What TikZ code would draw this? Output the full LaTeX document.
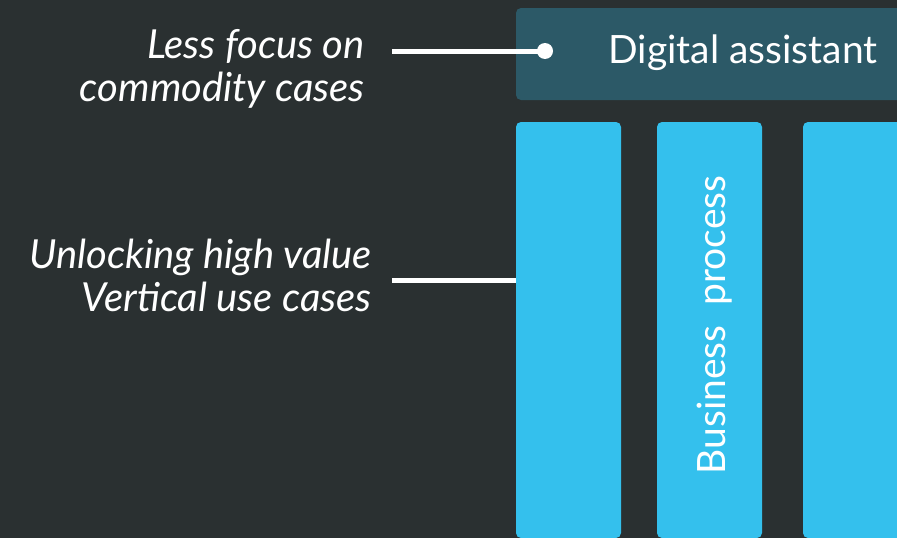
\documentclass[tikz,border=0pt]{standalone}
\usepackage{fontspec}
\setmainfont{Lato}
\definecolor{bgc}{RGB}{42,48,49}
\definecolor{topc}{RGB}{44,89,103}
\definecolor{barc}{RGB}{52,192,237}
\begin{document}
\begin{tikzpicture}[x=1pt,y=-1pt,
  bar/.style={fill=barc, rounded corners=5pt},
  lbl/.style={text=white, font=\fontsize{40}{43.7}\selectfont\itshape, align=right, inner sep=0pt},
  conn/.style={draw=white, line width=5pt},
  ]
\useasboundingbox (0,0) rectangle (897,538);
\fill[bgc] (0,0) rectangle (897,538);
\clip (0,0) rectangle (897,538);
\fill[topc, rounded corners=5pt] (516,8) rectangle (930,100);
\node[inner sep=0pt, minimum width=414pt, minimum height=92pt, anchor=north west] (topbox) at (516,8) {};
\node[text=white, font=\fontsize{39}{46}\selectfont, anchor=base, inner sep=0pt] (da) at (743,63) {Digital assistant};
\path[bar] (516,122) rectangle (621,538);
\path[bar] (657,122) rectangle (762,538);
\path[bar] (803,122) rectangle (910,538);
\node[inner sep=0pt, minimum width=105pt, minimum height=416pt, anchor=north west] (bar1) at (516,122) {};
\node[inner sep=0pt, minimum width=105pt, minimum height=416pt, anchor=north west] (bar2) at (657,122) {};
\node[text=white, font=\fontsize{39}{46}\selectfont, rotate=90, anchor=base, inner sep=0pt] (bp) at (725,325) {Business\ \ process};
\node[lbl, anchor=base east] (t1) at (365,101.7) {Less focus on\\commodity cases};
\node[lbl, anchor=base east] (t2) at (372,311.7) {Unlocking high value\\Vertical use cases};
\node[circle, fill=white, inner sep=0pt, minimum size=16pt] (dot) at (545,51) {};
\coordinate (s1) at (392,51);
\coordinate (s2) at (392,280);
\draw[conn] (s1) -- (dot.center);
\draw[conn] (s2) -- (bar1.west |- s2);
\end{tikzpicture}
\end{document}
